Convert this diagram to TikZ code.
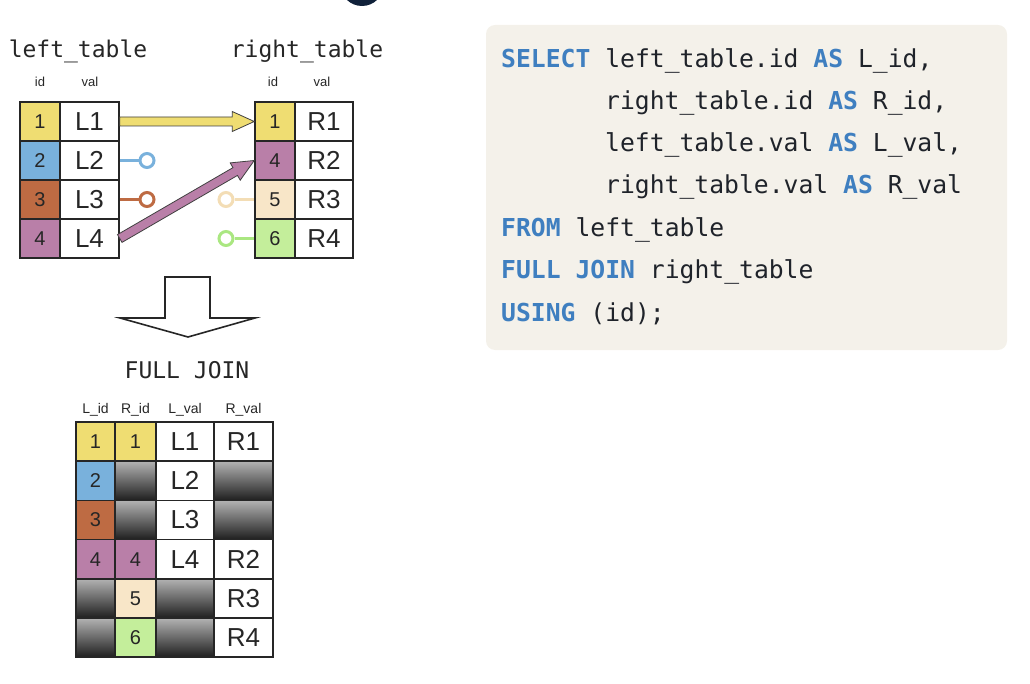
\documentclass[tikz,border=0pt]{standalone}
\usepackage{fontspec}
\setmainfont{Liberation Sans}
\newfontfamily\codefont{DejaVu Sans Mono}
\usetikzlibrary{calc}

\definecolor{cyellow}{HTML}{EFDD72}
\definecolor{cblue}{HTML}{79B1DC}
\definecolor{cbrown}{HTML}{BE6B43}
\definecolor{cpink}{HTML}{B97FA8}
\definecolor{cbeige}{HTML}{F8E6C8}
\definecolor{cbeigeline}{HTML}{F3DDB5}
\definecolor{cgreen}{HTML}{C4EE9B}
\definecolor{cgreenline}{HTML}{AAE781}
\definecolor{codebg}{HTML}{F4F1EA}
\definecolor{kw}{HTML}{3F7FC0}
\definecolor{ink}{HTML}{1F232A}
\definecolor{navy}{HTML}{10213A}

% thick outlined arrow from #1 to #2, filled with #3
\newcommand{\fatarrow}[3]{%
  \coordinate (fa-h) at ($(#2)!22pt!(#1)$);
  \filldraw[fill=#3, draw=black!75, line width=0.8pt, line join=miter]
    ($(#1)!4.5pt!90:(#2)$) -- ($(fa-h)!4.5pt!90:(#2)$) -- ($(fa-h)!10pt!90:(#2)$)
    -- (#2) -- ($(fa-h)!10pt!-90:(#2)$) -- ($(fa-h)!4.5pt!-90:(#2)$)
    -- ($(#1)!4.5pt!-90:(#2)$) -- cycle;}

\newcommand{\kwd}[1]{{\bfseries\color{kw}#1}}

\begin{document}
\begin{tikzpicture}[x=1pt,y=-1pt,
  cell/.style={draw=black!85, line width=1.5pt, inner sep=0pt, text=black!85},
  idc/.style={cell, minimum width=40pt, minimum height=39pt, font=\fontsize{20}{20}\selectfont},
  valc/.style={cell, minimum width=59pt, minimum height=39pt, font=\fontsize{26}{26}\selectfont},
  nocell/.style={top color=black!30, bottom color=black!88},
  tname/.style={font=\codefont\fontsize{23}{23}\selectfont, text=black!85, anchor=base},
  colhead/.style={font=\fontsize{13}{13}\selectfont, text=black!85},
  lolly/.style={circle, draw=#1, line width=3pt, fill=white, minimum size=14pt, inner sep=0pt},
  stick/.style={draw=#1, line width=3pt},
  codeline/.style={font=\codefont\fontsize{24.7}{24.7}\selectfont, text=ink, anchor=base west, inner sep=0pt}
]
\useasboundingbox (0,0) rectangle (1030,684);

% dark badge cut by the top edge
\begin{scope}
  \clip (0,0) rectangle (1030,684);
  \fill[navy] (362,-15.75) circle (21.75pt);
\end{scope}

% ---------- left table ----------
\node[tname] (ltname) at (78,58) {left\_table};
\node[colhead] (lhid) at (40,82) {id};
\node[colhead] (lhval) at (90,82) {val};
\node[idc, fill=cyellow] (lid1) at (40,121.5) {1};
\node[idc, fill=cblue]   (lid2) at (40,160.5) {2};
\node[idc, fill=cbrown]  (lid3) at (40,199.5) {3};
\node[idc, fill=cpink]   (lid4) at (40,238.5) {4};
\node[valc] (lval1) at (89.5,121.5) {L1};
\node[valc] (lval2) at (89.5,160.5) {L2};
\node[valc] (lval3) at (89.5,199.5) {L3};
\node[valc] (lval4) at (89.5,238.5) {L4};

% ---------- right table ----------
\node[tname] (rtname) at (307,58) {right\_table};
\node[colhead] (rhid) at (273,82) {id};
\node[colhead] (rhval) at (322,82) {val};
\node[idc, fill=cyellow] (rid1) at (275,121.5) {1};
\node[idc, fill=cpink]   (rid2) at (275,160.5) {4};
\node[idc, fill=cbeige]  (rid3) at (275,199.5) {5};
\node[idc, fill=cgreen]  (rid4) at (275,238.5) {6};
\node[valc, minimum width=58pt] (rval1) at (324,121.5) {R1};
\node[valc, minimum width=58pt] (rval2) at (324,160.5) {R2};
\node[valc, minimum width=58pt] (rval3) at (324,199.5) {R3};
\node[valc, minimum width=58pt] (rval4) at (324,238.5) {R4};

% ---------- matches and unmatched keys ----------
\fatarrow{lval1.east}{rid1.west}{cyellow}
\fatarrow{lval4.east}{rid2.west}{cpink}

\node[lolly=cblue] (o2) at (147,160.5) {};
\draw[stick=cblue] (lval2.east) -- (o2);
\node[lolly=cbrown] (o3) at (147,199.5) {};
\draw[stick=cbrown] (lval3.east) -- (o3);
\node[lolly=cbeigeline] (o5) at (226,199.5) {};
\draw[stick=cbeigeline] (o5) -- (rid3.west);
\node[lolly=cgreenline] (o6) at (226,238.5) {};
\draw[stick=cgreenline] (o6) -- (rid4.west);

% ---------- down arrow ----------
\draw[line width=1.6pt, black!85, fill=white, line join=miter]
  (165,277) -- (210,277) -- (210,318) -- (255,318) -- (188,337)
  -- (120,318) -- (165,318) -- cycle;
\node[tname] (fj) at (187,378) {FULL JOIN};

% ---------- result table ----------
\begin{scope}[every node/.append style={minimum height=39.2pt}]
\node[colhead, font=\fontsize{14}{14}\selectfont] (hlid)  at (95.5,410) {L\_id};
\node[colhead, font=\fontsize{14}{14}\selectfont] (hrid)  at (135.5,410) {R\_id};
\node[colhead, font=\fontsize{14}{14}\selectfont] (hlval) at (185,410) {L\_val};
\node[colhead, font=\fontsize{14}{14}\selectfont] (hrval) at (243.5,410) {R\_val};
\end{scope}

\tikzset{
  c1/.style={idc, minimum width=39pt, minimum height=39.2pt},
  c2/.style={idc, minimum width=41pt, minimum height=39.2pt},
  c3/.style={valc, minimum width=58pt, minimum height=39.2pt},
  c4/.style={valc, minimum width=59pt, minimum height=39.2pt}}

\node[c1, fill=cyellow] (a1) at (95.5,441.6) {1};
\node[c2, fill=cyellow] (b1) at (135.5,441.6) {1};
\node[c3] (c1) at (185,441.6) {L1};
\node[c4] (d1) at (243.5,441.6) {R1};

\node[c1, fill=cblue] (a2) at (95.5,480.8) {2};
\node[c2, nocell] (b2) at (135.5,480.8) {};
\node[c3] (c2) at (185,480.8) {L2};
\node[c4, nocell] (d2) at (243.5,480.8) {};

\node[c1, fill=cbrown] (a3) at (95.5,520) {3};
\node[c2, nocell] (b3) at (135.5,520) {};
\node[c3] (c3) at (185,520) {L3};
\node[c4, nocell] (d3) at (243.5,520) {};

\node[c1, fill=cpink] (a4) at (95.5,559.2) {4};
\node[c2, fill=cpink] (b4) at (135.5,559.2) {4};
\node[c3] (c4) at (185,559.2) {L4};
\node[c4] (d4) at (243.5,559.2) {R2};

\node[c1, nocell] (a5) at (95.5,598.4) {};
\node[c2, fill=cbeige] (b5) at (135.5,598.4) {5};
\node[c3, nocell] (c5) at (185,598.4) {};
\node[c4] (d5) at (243.5,598.4) {R3};

\node[c1, nocell] (a6) at (95.5,637.6) {};
\node[c2, fill=cgreen] (b6) at (135.5,637.6) {6};
\node[c3, nocell] (c6) at (185,637.6) {};
\node[c4] (d6) at (243.5,637.6) {R4};

% ---------- SQL ----------
\fill[codebg, rounded corners=9pt] (486,25) rectangle (1007,350);
\node[codeline] (q1) at (501,68)  {\kwd{SELECT} left\_table.id \kwd{AS} L\_id,};
\node[codeline] (q2) at (605,110) {right\_table.id \kwd{AS} R\_id,};
\node[codeline] (q3) at (605,152) {left\_table.val \kwd{AS} L\_val,};
\node[codeline] (q4) at (605,194) {right\_table.val \kwd{AS} R\_val};
\node[codeline] (q5) at (501,237) {\kwd{FROM} left\_table};
\node[codeline] (q6) at (501,279) {\kwd{FULL JOIN} right\_table};
\node[codeline] (q7) at (501,322) {\kwd{USING} (id);};
\end{tikzpicture}
\end{document}
